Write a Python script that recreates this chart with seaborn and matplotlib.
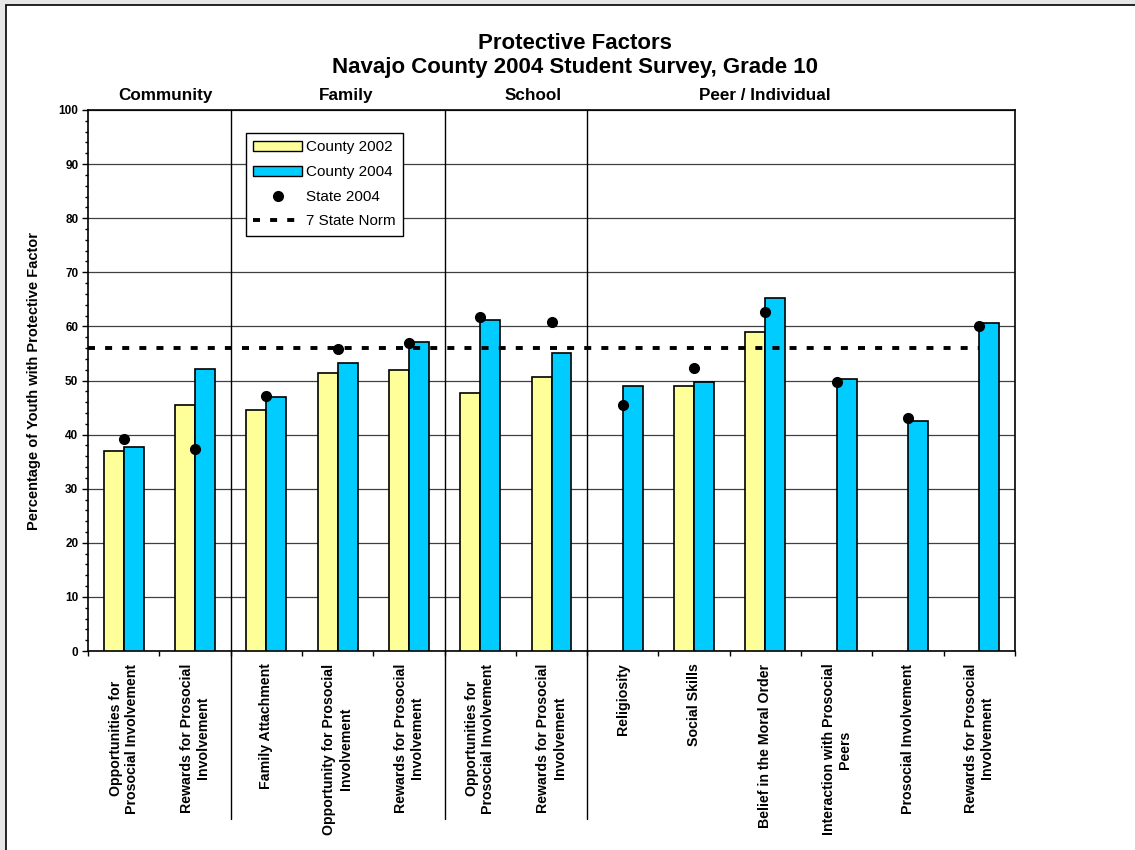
import numpy as np
import pandas as pd
import seaborn as sns
import matplotlib.pyplot as plt
from matplotlib.patches import Patch, Rectangle
from matplotlib.lines import Line2D

# values (percent of youth with protective factor)
groups = ["Community", "Family", "School", "Peer / Individual"]
group_sizes = [2, 3, 2, 6]
factors = [
    "Opportunities for\nProsocial Involvement",
    "Rewards for Prosocial\nInvolvement",
    "Family Attachment",
    "Opportunity for Prosocial\nInvolvement",
    "Rewards for Prosocial\nInvolvement",
    "Opportunities for\nProsocial Involvement",
    "Rewards for Prosocial\nInvolvement",
    "Religiosity",
    "Social Skills",
    "Belief in the Moral Order",
    "Interaction with Prosocial\nPeers",
    "Prosocial Involvement",
    "Rewards for Prosocial\nInvolvement",
]
county_2002 = [37.0, 45.4, 44.6, 51.4, 51.9, 47.6, 50.7, np.nan, 49.0, 58.9, np.nan, np.nan, np.nan]
county_2004 = [37.8, 52.1, 47.0, 53.3, 57.1, 61.1, 55.1, 49.0, 49.7, 65.3, 50.2, 42.6, 60.7]
state_2004 = [39.2, 37.3, 47.2, 55.9, 57.0, 61.7, 60.8, 45.5, 52.3, 62.6, 49.7, 43.1, 60.1]
state_norm = 56.0

yellow = "#FFFF99"
blue = "#00CCFF"

# unique id per bar slot (labels repeat across groups)
group_of = [g for g, n in zip(groups, group_sizes) for _ in range(n)]
items = [f"{g}: {f}" for g, f in zip(group_of, factors)]
df = pd.DataFrame({
    "item": items * 2,
    "series": ["County 2002"] * len(items) + ["County 2004"] * len(items),
    "value": county_2002 + county_2004,
})

sns.set_theme(style="white")
plt.rcParams["font.family"] = ["Liberation Sans", "DejaVu Sans"]
plt.rcParams.update({"text.color": "black", "axes.labelcolor": "black",
                     "xtick.color": "black", "ytick.color": "black"})

fig = plt.figure(figsize=(11.35, 8.5), dpi=100, facecolor="#e6e6e6")
fig.patches.append(Rectangle((6 / 1135, -0.05), 1.1, 1 - 5 / 850 + 0.05,
                             transform=fig.transFigure, facecolor="white",
                             edgecolor="black", lw=1.2, zorder=-1))
ax = fig.add_axes([88 / 1135, 1 - 651 / 850, 927 / 1135, 541 / 850])
ax.set_facecolor("white")

sns.barplot(data=df, x="item", y="value", hue="series", order=items,
            hue_order=["County 2002", "County 2004"],
            palette={"County 2002": yellow, "County 2004": blue},
            saturation=1, width=0.56, gap=0, edgecolor="black", linewidth=1.2,
            legend=False, ax=ax, zorder=3)

n = len(items)
ax.plot(np.arange(n), state_2004, "o", color="black", ms=7, zorder=5)
ax.plot([-0.5, n - 1], [state_norm, state_norm], color="black", lw=2.8,
        ls=(0, (1.8, 2.6)), zorder=4)

ax.set_xlim(-0.5, n - 0.5)
ax.set_ylim(0, 100)
ax.set_yticks(np.arange(0, 101, 10))
ax.set_yticks(np.arange(0, 101, 2), minor=True)
ax.yaxis.grid(True, color="#404040", lw=0.9)
ax.set_axisbelow(True)
ax.tick_params(axis="y", which="major", direction="out", length=4, width=1,
               labelsize=8.5, pad=3, left=True)
ax.tick_params(axis="y", which="minor", direction="out", length=2.5, width=1,
               left=True)
for t in ax.get_yticklabels():
    t.set_fontweight("bold")

ax.set_xticks(np.arange(n))
ax.set_xticklabels(factors, rotation=90, ha="center", va="top",
                   multialignment="center", fontweight="bold", fontsize=10.2)
ax.set_xticks(np.arange(n + 1) - 0.5, minor=True)
ax.tick_params(axis="x", which="major", length=0, pad=9)
ax.tick_params(axis="x", which="minor", direction="out", length=3.5, width=1,
               bottom=True)
ax.set_xlabel("")

for s in ax.spines.values():
    s.set_visible(True)
    s.set_color("black")
    s.set_linewidth(1.2)

# group separators running down into the label area
for b in np.cumsum(group_sizes)[:-1]:
    ax.axvline(b - 0.5, ymin=-0.31, ymax=1, color="black", lw=1, clip_on=False, zorder=6)

group_x = [0.083, 0.278, 0.480, 0.730]
for g, gx in zip(groups, group_x):
    ax.text(gx, 1.026, g, transform=ax.transAxes, ha="center", va="center",
            fontsize=12.3, fontweight="bold")

fig.text(0.5066, 1 - 55.5 / 850,
         "Protective Factors\nNavajo County 2004 Student Survey, Grade 10",
         ha="center", va="center", fontsize=16, fontweight="bold", linespacing=1.2)

ax.set_ylabel("Percentage of Youth with Protective Factor", fontsize=10.5,
              fontweight="bold")
ax.yaxis.set_label_coords(-0.0507, 0.5)

handles = [
    Patch(facecolor=yellow, edgecolor="black", lw=1),
    Patch(facecolor=blue, edgecolor="black", lw=1),
    Line2D([], [], marker="o", color="black", ls="none", ms=7),
    Line2D([], [], color="black", lw=2.8, ls=(0, (1.8, 2.6))),
]
leg = ax.legend(handles, ["County 2002", "County 2004", "State 2004", "7 State Norm"],
                loc="upper left", bbox_to_anchor=(0.170, 0.958), borderaxespad=0,
                fontsize=11, frameon=True, fancybox=False, framealpha=1,
                edgecolor="black", handlelength=3.2, handleheight=0.65,
                labelspacing=0.7, handletextpad=0.25, borderpad=0.5, numpoints=1)
leg.get_frame().set_linewidth(1)
leg.set_zorder(10)

fig.savefig("out.png", dpi=100, facecolor=fig.get_facecolor())
